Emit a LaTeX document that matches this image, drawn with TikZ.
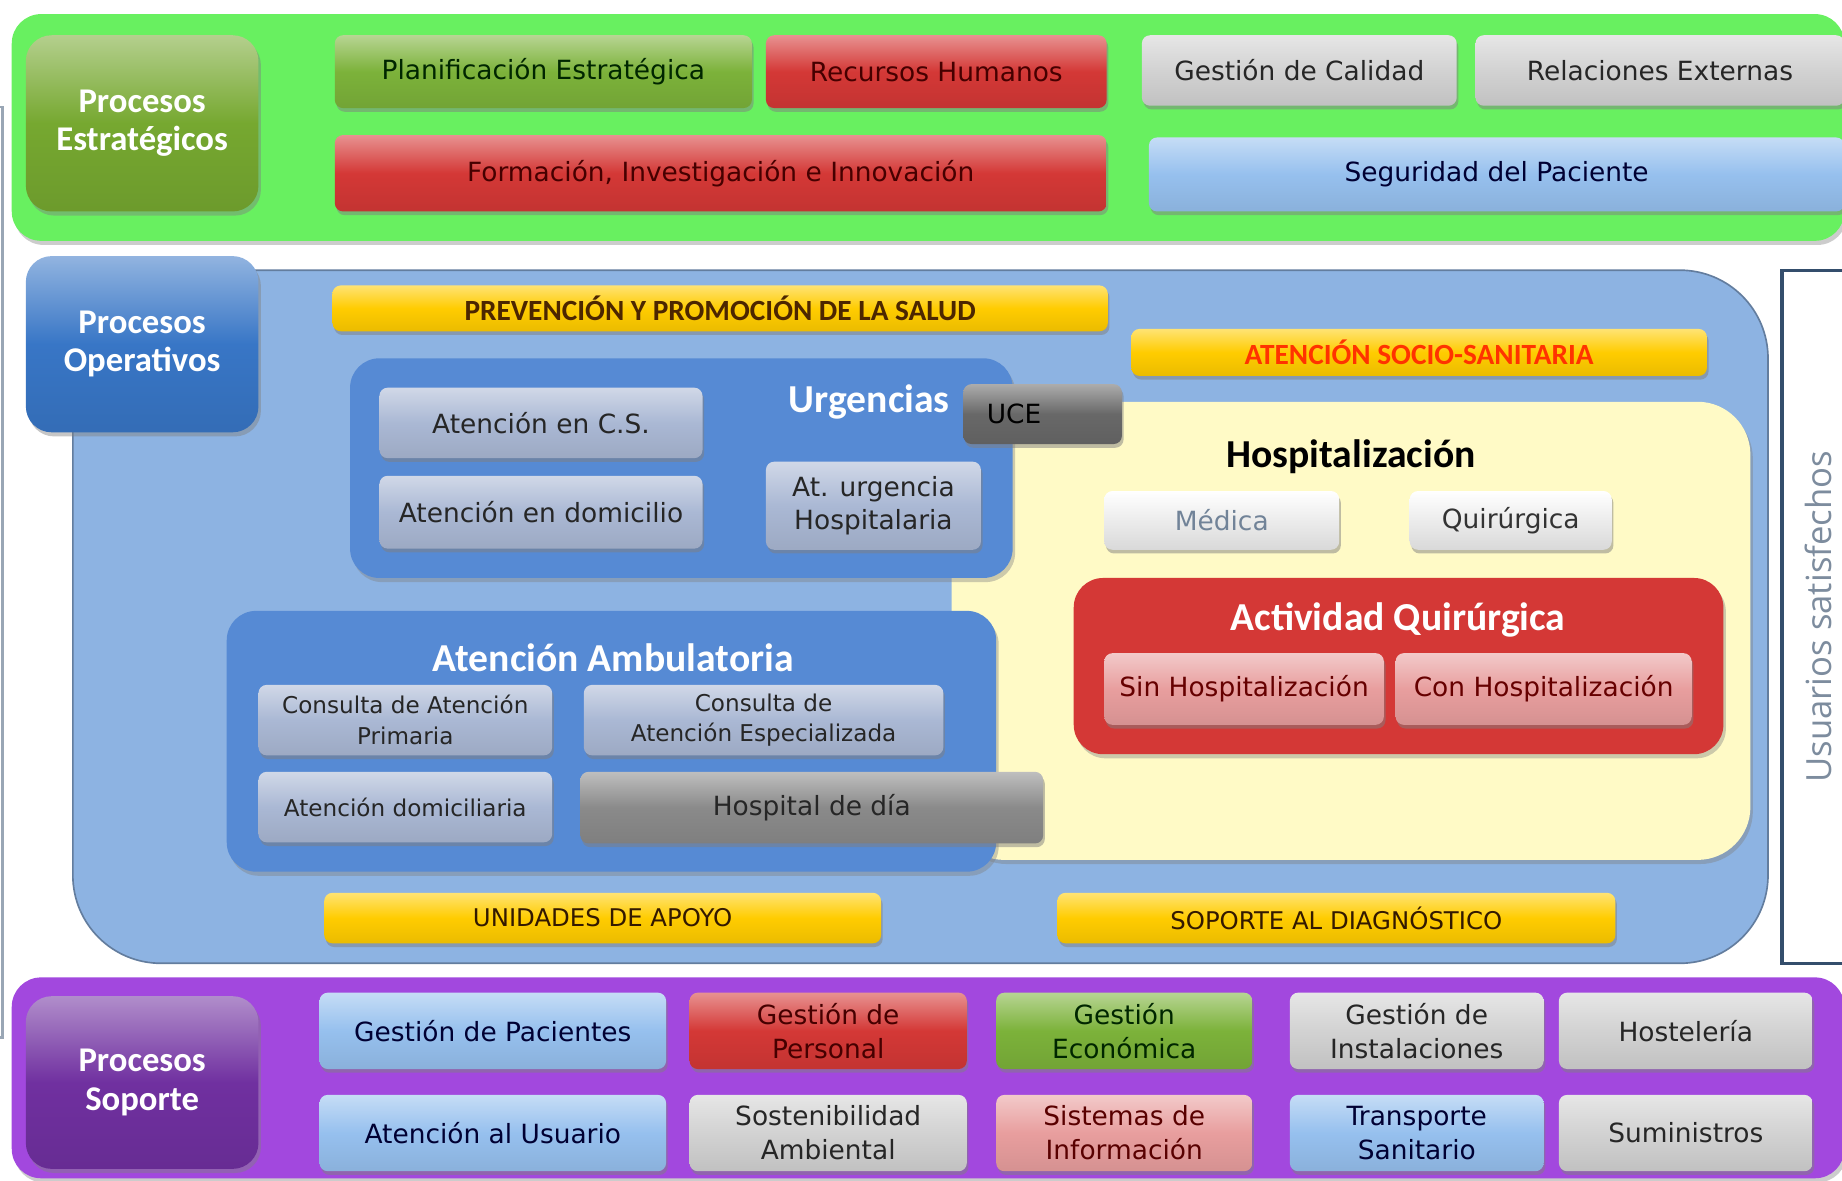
\documentclass[tikz,border=0pt]{standalone}
\usepackage{fontspec}
\setmainfont{DejaVu Sans}
\newfontfamily\headfont{Carlito}
\newfontfamily\sidefont{Open Sans}
\usetikzlibrary{shadows}

\definecolor{estgreen}{RGB}{104,240,96}
\definecolor{olive}{RGB}{118,168,48}
\definecolor{leaf}{RGB}{124,178,58}
\definecolor{crimson}{RGB}{212,56,54}
\definecolor{silver}{RGB}{210,210,210}
\definecolor{sky}{RGB}{150,192,238}
\definecolor{rose}{RGB}{232,158,158}
\definecolor{opblue}{RGB}{141,179,226}
\definecolor{opdark}{RGB}{56,118,198}
\definecolor{midblue}{RGB}{86,138,212}
\definecolor{steel}{RGB}{170,184,212}
\definecolor{ucegray}{RGB}{104,104,104}
\definecolor{daygray}{RGB}{138,138,138}
\definecolor{gold}{RGB}{255,204,0}
\definecolor{cream}{RGB}{255,250,198}
\definecolor{plum}{RGB}{162,72,222}
\definecolor{plumdark}{RGB}{112,48,160}
\definecolor{frame}{RGB}{52,78,108}
\definecolor{maroon}{RGB}{70,0,0}
\definecolor{sidegray}{RGB}{125,140,158}

\tikzset{
  tone/.style={top color=#1!55!white, bottom color=#1!92!black, middle color=#1},
  box/.style={rectangle, rounded corners=0.07cm, inner sep=1pt, align=center,
    font=\fontsize{6.4}{8.2}\selectfont,
    drop shadow={shadow xshift=0.4pt, shadow yshift=-0.9pt, opacity=0.5}},
  smallbox/.style={box, font=\fontsize{5.6}{7.4}\selectfont},
  redbox/.style={box, tone=crimson, text=maroon},
  greenbox/.style={box, tone=leaf, text=black!85!green},
  graybox/.style={box, tone=silver, text=black!85},
  skybox/.style={box, tone=sky, text=blue!20!black},
  rosebox/.style={box, tone=rose, text=red!35!black},
  steelbox/.style={tone=steel, text=black!85},
  whitebox/.style={box, top color=white, bottom color=silver!85, text=frame!70},
  headbox/.style={rectangle, rounded corners=0.22cm, align=center, text=white,
    font=\headfont\bfseries\fontsize{8.4}{9.3}\selectfont,
    drop shadow={shadow xshift=0.6pt, shadow yshift=-1pt, opacity=0.45}},
  container/.style={rectangle, rounded corners=0.25cm, inner sep=0pt,
    drop shadow={shadow xshift=0.6pt, shadow yshift=-1pt, opacity=0.4}},
  title/.style={font=\headfont\bfseries\fontsize{9.6}{11}\selectfont},
  bar/.style={box, tone=gold, font=\headfont\bfseries\fontsize{7.1}{8}\selectfont},
  plainbar/.style={box, tone=gold, text=black!80!orange, font=\fontsize{5.9}{7}\selectfont}
}

\begin{document}
\begin{tikzpicture}
\useasboundingbox (0,0) rectangle (15.68,-10.05);

% Left frame
\node[draw=frame!50, line width=0.6pt, fill=white, minimum width=1.02cm, minimum height=7.92cm] (needs) at (-0.49,-4.87) {};

% Strategic processes
\node[container, fill=estgreen, minimum width=15.60cm, minimum height=1.93cm] (estband) at (7.90,-1.085) {};
\node[headbox, tone=olive, minimum width=1.98cm, minimum height=1.50cm] (est) at (1.21,-1.05) {Procesos\\Estratégicos};
\node[greenbox, minimum width=3.55cm, minimum height=0.62cm] (plan) at (4.625,-0.61) {Planificación Estratégica};
\node[redbox, minimum width=2.90cm, minimum height=0.62cm] (rrhh) at (7.97,-0.61) {Recursos Humanos};
\node[graybox, minimum width=2.68cm, minimum height=0.60cm] (calidad) at (11.06,-0.60) {Gestión de Calidad};
\node[graybox, minimum width=3.14cm, minimum height=0.60cm] (relext) at (14.13,-0.60) {Relaciones Externas};
\node[redbox, minimum width=6.57cm, minimum height=0.65cm] (formacion) at (6.135,-1.475) {Formación, Investigación e Innovación};
\node[skybox, minimum width=5.92cm, minimum height=0.63cm] (seguridad) at (12.74,-1.485) {Seguridad del Paciente};

% Operative processes
\node[rectangle, rounded corners=0.75cm, fill=opblue, draw=opblue!70!black, line width=0.4pt, minimum width=14.43cm, minimum height=5.90cm] (opregion) at (7.835,-5.25) {};
\node[headbox, tone=opdark, minimum width=1.98cm, minimum height=1.50cm] (oper) at (1.21,-2.93) {Procesos\\Operativos};
\node[bar, text=black!70!orange, minimum width=6.60cm, minimum height=0.39cm] (prev) at (6.13,-2.625) {PREVENCIÓN Y PROMOCIÓN DE LA SALUD};
\node[bar, text=red!60!orange, minimum width=4.90cm, minimum height=0.40cm] (socio) at (12.08,-3.00) {ATENCIÓN SOCIO-SANITARIA};

% Hospitalization
\node[container, fill=cream, rounded corners=0.45cm, minimum width=6.80cm, minimum height=3.90cm] (hosp) at (11.50,-5.37) {};
\node[title, text=black] (hosptitle) at (11.50,-3.89) {Hospitalización};
\node[whitebox, minimum width=2.00cm, minimum height=0.50cm] (medica) at (10.40,-4.43) {Médica};
\node[whitebox, text=black!80, minimum width=1.72cm, minimum height=0.50cm] (quir) at (12.86,-4.43) {Quirúrgica};

% Emergencies
\node[container, fill=midblue, minimum width=5.64cm, minimum height=1.87cm] (urg) at (5.80,-3.985) {};
\node[title, text=white] (urgtitle) at (7.40,-3.42) {Urgencias};
\node[box, steelbox, minimum width=2.75cm, minimum height=0.60cm] (atcs) at (4.605,-3.60) {Atención en C.S.};
\node[box, steelbox, minimum width=2.75cm, minimum height=0.62cm] (atdom) at (4.605,-4.36) {Atención en domicilio};
\node[box, steelbox, minimum width=1.83cm, minimum height=0.75cm] (aturg) at (7.435,-4.305) {At. urgencia\\Hospitalaria};
\node[box, tone=ucegray, text=black, align=left, text width=0.95cm, inner xsep=0.2cm, minimum height=0.51cm] (uce) at (8.875,-3.525) {UCE};

% Surgical activity
\node[container, fill=crimson, minimum width=5.53cm, minimum height=1.50cm] (actq) at (11.905,-5.67) {};
\node[title, text=white] (actqtitle) at (11.90,-5.28) {Actividad Quirúrgica};
\node[rosebox, text=black!60!red, minimum width=2.38cm, minimum height=0.61cm] (sinh) at (10.59,-5.865) {Sin Hospitalización};
\node[rosebox, text=black!60!red, minimum width=2.52cm, minimum height=0.61cm] (conh) at (13.14,-5.865) {Con Hospitalización};

% Outpatient care
\node[container, fill=midblue, minimum width=6.55cm, minimum height=2.22cm] (amb) at (5.205,-6.31) {};
\node[title, text=white] (ambtitle) at (5.22,-5.60) {Atención Ambulatoria};
\node[smallbox, steelbox, minimum width=2.50cm, minimum height=0.60cm] (cap) at (3.45,-6.13) {Consulta de Atención\\Primaria};
\node[smallbox, steelbox, minimum width=3.06cm, minimum height=0.60cm] (cae) at (6.50,-6.13) {Consulta de\\Atención Especializada};
\node[smallbox, steelbox, minimum width=2.50cm, minimum height=0.60cm] (adom) at (3.45,-6.87) {Atención domiciliaria};
\node[box, tone=daygray, text=black!85, minimum width=3.94cm, minimum height=0.61cm] (hdia) at (6.91,-6.875) {Hospital de día};

% Support units
\node[plainbar, minimum width=4.74cm, minimum height=0.43cm] (apoyo) at (5.13,-7.815) {UNIDADES DE APOYO};
\node[plainbar, minimum width=4.75cm, minimum height=0.43cm] (diag) at (11.375,-7.815) {SOPORTE AL DIAGNÓSTICO};

% Satisfied users
\node[draw=frame, line width=0.8pt, fill=white, minimum width=1.03cm, minimum height=5.90cm] (usuarios) at (15.685,-5.25) {};
\node[rotate=90, text=sidegray, font=\sidefont\fontsize{8.4}{10}\selectfont] (usrtxt) at (15.48,-5.25) {Usuarios satisfechos};

% Support processes
\node[container, fill=plum, minimum width=15.60cm, minimum height=1.71cm] (sopband) at (7.90,-9.175) {};
\node[headbox, tone=plumdark, minimum width=1.98cm, minimum height=1.47cm] (sop) at (1.21,-9.215) {Procesos\\Soporte};
\node[skybox, minimum width=2.95cm, minimum height=0.65cm] (gpac) at (4.195,-8.775) {Gestión de Pacientes};
\node[redbox, minimum width=2.36cm, minimum height=0.65cm] (gper) at (7.05,-8.775) {Gestión de\\Personal};
\node[greenbox, minimum width=2.18cm, minimum height=0.65cm] (geco) at (9.57,-8.775) {Gestión\\Económica};
\node[graybox, minimum width=2.16cm, minimum height=0.65cm] (ginst) at (12.06,-8.775) {Gestión de\\Instalaciones};
\node[graybox, minimum width=2.16cm, minimum height=0.65cm] (host) at (14.35,-8.775) {Hostelería};
\node[skybox, minimum width=2.95cm, minimum height=0.65cm] (ausu) at (4.195,-9.645) {Atención al Usuario};
\node[graybox, minimum width=2.36cm, minimum height=0.65cm] (sost) at (7.05,-9.645) {Sostenibilidad\\Ambiental};
\node[rosebox, minimum width=2.18cm, minimum height=0.65cm] (sinfo) at (9.57,-9.645) {Sistemas de\\Información};
\node[skybox, minimum width=2.16cm, minimum height=0.65cm] (trans) at (12.06,-9.645) {Transporte\\Sanitario};
\node[graybox, minimum width=2.16cm, minimum height=0.65cm] (sumin) at (14.35,-9.645) {Suministros};
\end{tikzpicture}
\end{document}
